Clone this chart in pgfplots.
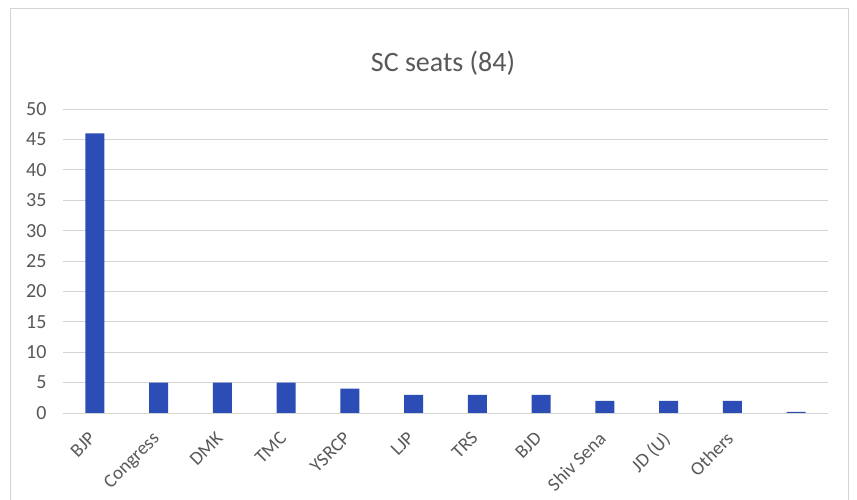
\documentclass[border=0pt]{standalone}
\usepackage{pgfplots}
\pgfplotsset{compat=1.18}
\usepackage{fontspec}
\setmainfont{Carlito}
\definecolor{barblue}{HTML}{2C4DB6}
\definecolor{txtgrey}{HTML}{595959}
\definecolor{gridgrey}{HTML}{D4D4D4}
\begin{document}
\begin{tikzpicture}
\useasboundingbox (0,0) rectangle (857pt,500pt);
\fill[white] (0,0) rectangle (857pt,500pt);
\draw[gridgrey, line width=0.8pt] (10pt,-5pt) rectangle (848pt,492pt);
\node[txtgrey, font=\fontsize{28}{32}\selectfont] at (443pt,437pt) {SC seats (84)};
\begin{axis}[
  at={(63pt,87pt)}, anchor=south west,
  scale only axis,
  width=765pt, height=304pt,
  xmin=-0.5, xmax=11.5,
  ymin=0, ymax=50,
  ytick={0,5,...,50},
  xtick=data,
  xticklabels={BJP,Congress,DMK,TMC,YSRCP,LJP,TRS,BJD,Shiv Sena,JD (U),Others,{}},
  ybar, bar width=19pt,
  axis line style={draw=none},
  ymajorgrids, grid style={gridgrey, line width=0.9pt},
  major tick length=0pt,
  tick label style={txtgrey, font=\fontsize{20}{22}\selectfont},
  /pgf/number format/assume math mode=true,
  yticklabel style={xshift=-13pt},
  xticklabel style={rotate=45, anchor=north east, inner sep=1pt, font=\fontsize{19}{21}\selectfont, yshift=-6.4pt, xshift=-16.6pt},
  clip=false,
]
\addplot[draw=none, fill=barblue] coordinates {
(0,46) (1,5) (2,5) (3,5) (4,4) (5,3) (6,3) (7,3) (8,2) (9,2) (10,2) (11,0.2)
};
\end{axis}
\end{tikzpicture}
\end{document}
